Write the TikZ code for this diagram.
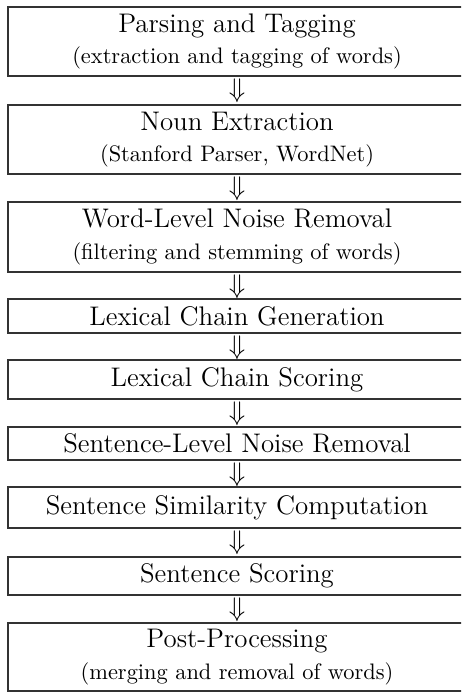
\documentclass[tikz,border=0pt]{standalone}
\usetikzlibrary{calc}
\begin{document}
\begin{tikzpicture}[x=0.4464pt, y=-0.4464pt,
  box/.style={rectangle, inner sep=0pt, minimum width=458*0.4464pt, align=center},
  boxline/.style={draw=black!80, line width=0.9pt},
  arr/.style={inner sep=0pt, font=\large, anchor=north}]
\useasboundingbox (0,0) rectangle (461,692);
\fill[white] (0,0) rectangle (461,692);
\clip (0,0) rectangle (461,692);
\node[box, minimum height=69*0.4464pt] (b1) at (237,41.5)
  {{\large Parsing and Tagging}\\[2pt] (extraction and tagging of words)};
\node[box, minimum height=69*0.4464pt] (b2) at (237,139.5)
  {{\large Noun Extraction}\\[2pt] (Stanford Parser, WordNet)};
\node[box, minimum height=70*0.4464pt] (b3) at (237,237)
  {{\large Word-Level Noise Removal}\\[2pt] (filtering and stemming of words)};
\node[box, minimum height=34*0.4464pt, font=\large] (b4) at (237,316)
  {Lexical Chain Generation};
\node[box, minimum height=39*0.4464pt, font=\large] (b5) at (237,379.5)
  {Lexical Chain Scoring};
\node[box, minimum height=33*0.4464pt, font=\large] (b6) at (237,443.5)
  {Sentence-Level Noise Removal};
\node[box, minimum height=41*0.4464pt, font=\large] (b7) at (237,507.5)
  {Sentence Similarity Computation};
\node[box, minimum height=38*0.4464pt, font=\large] (b8) at (237,576)
  {Sentence Scoring};
\node[box, minimum height=68*0.4464pt] (b9) at (237,657)
  {{\large Post-Processing}\\[2pt] (merging and removal of words)};
\foreach \b in {b1,b2,b3,b4,b5,b6,b7,b8,b9}
  \draw[boxline] (\b.north west) rectangle ($(\b.south east)+(40,0)$);
\foreach \a/\b in {b1/b2,b2/b3,b3/b4,b4/b5,b5/b6,b6/b7,b7/b8,b8/b9}
  \node[arr] (\a-\b) at ($(\a.south)+(0,2)$) {$\Downarrow$};
\end{tikzpicture}
\end{document}
